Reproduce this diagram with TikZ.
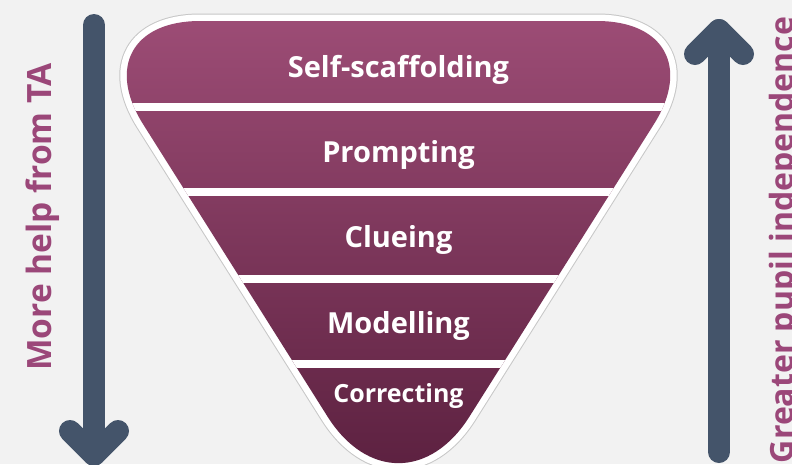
\documentclass[tikz,border=0pt]{standalone}
\usepackage{fontspec}
\setmainfont{Open Sans}
\definecolor{bgc}{HTML}{F2F2F2}
\definecolor{slate}{HTML}{44546A}
\definecolor{magtext}{HTML}{9B4779}
\definecolor{ftop}{HTML}{9C4C75}
\definecolor{fbot}{HTML}{5B203F}
\begin{document}
\begin{tikzpicture}[x=1pt,y=1pt,
  bandlabel/.style={text=white,font=\bfseries\fontsize{29}{30}\selectfont,anchor=base,inner sep=0pt},
  sidelabel/.style={text=magtext,font=\bfseries\fontsize{32}{34}\selectfont,anchor=base,rotate=90,inner sep=0pt},
  bigarrow/.style={draw=slate,line width=22pt,line cap=round,line join=round},
  sepline/.style={draw=white,line width=8pt}]
\useasboundingbox (0,0) rectangle (792,-464);
\clip (0,0) rectangle (792,-464);
\fill[bgc] (0,0) rectangle (792,-464);
\def\funnel{(200,-21) -- (597,-21) .. controls (664.4,-21) and (689.9,-67.2) .. (653.9,-124.2) -- (469.5,-416.5) .. controls (430.3,-478.7) and (366.7,-478.7) .. (327.5,-416.5) -- (143.1,-124.2) .. controls (107.1,-67.2) and (132.6,-21) .. (200,-21) -- cycle}
\draw[black!22,line width=15pt] \funnel;
\draw[white,line width=13pt] \funnel;
\shade[top color=ftop,bottom color=fbot] \funnel;
\begin{scope}
\clip \funnel;
\foreach \yy in {-107,-192,-278.5,-364} \draw[sepline] (60,\yy) -- (740,\yy);
\end{scope}
\node[bandlabel] (s1) at (398.5,-77) {Self-scaffolding};
\node[bandlabel] (s2) at (398.5,-162) {Prompting};
\node[bandlabel] (s3) at (398.5,-247) {Clueing};
\node[bandlabel] (s4) at (398.5,-333) {Modelling};
\node[bandlabel,font=\bfseries\fontsize{25}{26}\selectfont] (s5) at (398.5,-402) {Correcting};
% left arrow
\coordinate (la) at (94,-25);
\coordinate (lb) at (94,-455);
\coordinate (lw1) at (70,-431);
\coordinate (lw2) at (118,-431);
\draw[bigarrow] (la) -- (lb);
\draw[bigarrow] (lw1) -- (lb) -- (lw2);
% right arrow
\coordinate (ra) at (719,-452);
\coordinate (rb) at (719,-30);
\coordinate (rw1) at (695,-54);
\coordinate (rw2) at (743,-54);
\draw[bigarrow] (ra) -- (rb);
\draw[bigarrow] (rw1) -- (rb) -- (rw2);
\node[sidelabel,font=\bfseries\fontsize{33.5}{35}\selectfont] (tl) at (51,-217) {More help from TA};
\node[sidelabel] (tr) at (793,-240) {Greater pupil independence};
\end{tikzpicture}
\end{document}
